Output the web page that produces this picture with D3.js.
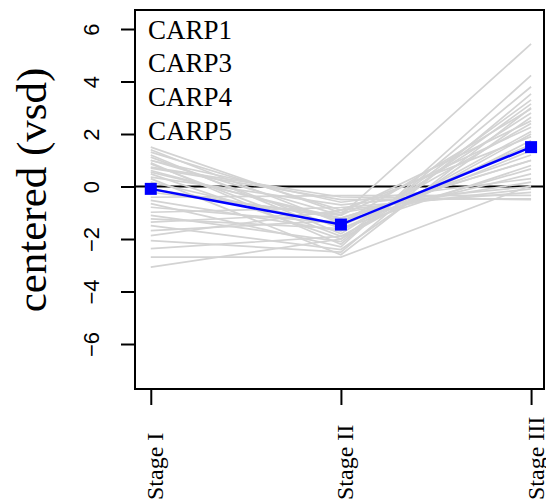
<!DOCTYPE html>
<html>
<head>
<meta charset="utf-8">
<script src="https://cdn.jsdelivr.net/npm/d3@7"></script>
<style>
  html, body { margin: 0; padding: 0; background: #fff; }
  svg { display: block; }
  .serif { font-family: "Liberation Serif", "DejaVu Serif", serif; }
  .sans { font-family: "Liberation Sans", "DejaVu Sans", sans-serif; }
</style>
</head>
<body>
<svg id="chart" width="546" height="504"></svg>
<script>
// Stages on the x axis
const stages = ["Stage I", "Stage II", "Stage III"];

// Centered expression of each gene in the cluster, one array per stage
// (index i in every array belongs to the same gene)
const stageIValues = [
   1.50,  1.31,  1.12,  0.99,  0.86,  0.74,  0.61,  0.48,  0.36,  0.17,
   1.20,  0.90,  0.55, -0.22, -0.41, -0.53, -0.65, -0.79, -0.98, -1.10,
  -1.23, -1.36, -1.49, -1.68, -1.87, -2.06, -2.37, -2.69, -3.07,  1.40,
   0.30, -0.10,  0.70,  1.00
];
const stageIIValues = [
  -1.00, -0.90, -1.60, -0.60, -1.90, -0.40, -1.30, -2.00, -0.70, -1.50,
  -1.80, -2.20, -1.20, -1.10, -0.35, -1.70, -2.30, -1.40, -0.80, -2.10,
  -1.60, -1.00, -2.40, -1.30, -0.90, -2.50, -1.90, -2.69, -2.00, -1.40,
  -2.60, -1.20, -0.50, -1.10
];
const stageIIIValues = [
   2.50,  1.90,  0.80,  0.30,  2.10, -0.50,  1.20,  3.30,  0.00,  1.60,
   2.80,  3.80,  1.00,  5.43, -0.34,  2.40,  4.23,  0.67, -0.22,  3.15,
   1.37,  0.17,  2.64,  0.48, -0.09,  3.53,  1.75,  0.04,  2.00,  2.96,
   3.00,  0.99, -0.47,  2.26
];

// Cluster mean profile
const meanProfile = [-0.09, -1.45, 1.50];

// Genes named in the panel
const geneLabels = ["CARP1", "CARP3", "CARP4", "CARP5"];

// Y axis ticks
const yTickValues = [-6, -4, -2, 0, 2, 4, 6];

const svg = d3.select("#chart");

// Plot region (box) and user coordinate limits
const box = { left: 135, right: 544, top: 10, bottom: 389 };
const xLim = [0.917, 3.068];
const yLim = [-7.714, 6.724];

const x = d3.scaleLinear().domain(xLim).range([box.left, box.right]);
const y = d3.scaleLinear().domain(yLim).range([box.bottom, box.top]);

const stageIndex = stages.map((_, i) => i + 1);

// Horizontal reference line at zero
svg.append("line")
  .attr("x1", box.left).attr("x2", box.right)
  .attr("y1", y(0)).attr("y2", y(0))
  .attr("stroke", "#000").attr("stroke-width", 2);

// Individual gene profiles
const genes = stageIValues.map((v, i) => [v, stageIIValues[i], stageIIIValues[i]]);
const line = d3.line()
  .x((d, i) => x(stageIndex[i]))
  .y(d => y(d));

svg.append("g")
  .selectAll("path")
  .data(genes)
  .join("path")
  .attr("d", line)
  .attr("fill", "none")
  .attr("stroke", "#d3d3d3")
  .attr("stroke-width", 1.7);

// Mean profile
svg.append("path")
  .datum(meanProfile)
  .attr("d", line)
  .attr("fill", "none")
  .attr("stroke", "#0000ff")
  .attr("stroke-width", 2.5);

const sq = 12;
svg.append("g")
  .selectAll("rect")
  .data(meanProfile)
  .join("rect")
  .attr("x", (d, i) => x(stageIndex[i]) - sq / 2)
  .attr("y", d => y(d) - sq / 2)
  .attr("width", sq)
  .attr("height", sq)
  .attr("fill", "#0000ff");

// Frame
svg.append("rect")
  .attr("x", box.left).attr("y", box.top)
  .attr("width", box.right - box.left)
  .attr("height", box.bottom - box.top)
  .attr("fill", "none")
  .attr("stroke", "#000")
  .attr("stroke-width", 2);

// Y axis
const yAxis = d3.axisLeft(y)
  .tickValues(yTickValues)
  .tickSize(14)
  .tickSizeOuter(0)
  .tickFormat(d3.format("d"));

const gy = svg.append("g")
  .attr("transform", `translate(${box.left},0)`)
  .call(yAxis)
  .attr("font-family", null)
  .attr("font-size", null);
gy.select(".domain")
  .attr("d", `M0,${y(yTickValues[0])}V${y(yTickValues[yTickValues.length - 1])}`)
  .attr("stroke-width", 2);
gy.selectAll(".tick line").attr("stroke-width", 2);
gy.selectAll(".tick text")
  .attr("x", null).attr("dy", null)
  .attr("class", "sans")
  .attr("transform", "translate(-36,0) rotate(-90)")
  .attr("text-anchor", "middle")
  .style("font-size", "22px")
  .attr("fill", "#000");

// X axis
const xAxis = d3.axisBottom(x)
  .tickValues(stageIndex)
  .tickSize(16)
  .tickSizeOuter(0)
  .tickFormat(d => stages[d - 1]);

const gx = svg.append("g")
  .attr("transform", `translate(0,${box.bottom})`)
  .call(xAxis)
  .attr("font-family", null)
  .attr("font-size", null);
gx.select(".domain")
  .attr("d", `M${x(stageIndex[0])},0H${x(stageIndex[stageIndex.length - 1])}`)
  .attr("stroke-width", 2);
gx.selectAll(".tick line").attr("stroke-width", 2);
gx.selectAll(".tick text")
  .attr("y", null).attr("dy", null)
  .attr("class", "serif")
  .attr("transform", `translate(12,${500 - box.bottom}) rotate(-90)`)
  .attr("text-anchor", "start")
  .style("font-size", "24px")
  .attr("fill", "#000");

// Y axis title
svg.append("text")
  .attr("class", "serif")
  .attr("transform", "translate(46,190) rotate(-90)")
  .attr("text-anchor", "middle")
  .style("font-size", "43px")
  .attr("fill", "#000")
  .text("centered (vsd)");

// Gene names
svg.append("g")
  .selectAll("text")
  .data(geneLabels)
  .join("text")
  .attr("class", "serif")
  .attr("x", 148)
  .attr("y", (d, i) => 38.5 + i * 33.9)
  .style("font-size", "27px")
  .attr("fill", "#000")
  .text(d => d);
</script>
</body>
</html>
